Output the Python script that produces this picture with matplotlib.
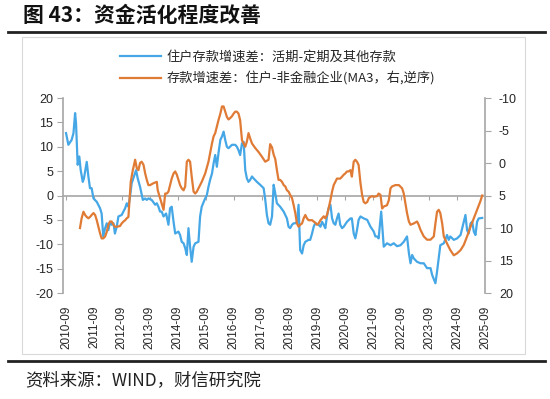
import numpy as np
import matplotlib
matplotlib.use("Agg")
import matplotlib.pyplot as plt
from matplotlib.lines import Line2D

plt.rcParams['font.family'] = ['Noto Sans CJK SC', 'DejaVu Sans']
plt.rcParams['axes.unicode_minus'] = False

# months counted from 2010-09
tick_labels = ["2010-09", "2011-09", "2012-09", "2013-09", "2014-09", "2015-09",
               "2016-09", "2017-09", "2018-09", "2019-09", "2020-09", "2021-09",
               "2022-09", "2023-09", "2024-09", "2025-09"]

# 住户存款增速差：活期-定期及其他存款 (left axis)
blue_m = [0, 1, 2.4, 3.2, 3.9, 4.3, 5.0, 5.7, 6.3, 7.2, 7.7, 8.9, 9.6, 10.3, 11.0, 11.8,
          13.2, 14.6, 15.3, 16.0, 16.8, 17.5, 18.2, 18.9, 19.6, 20.4, 21.0, 21.8, 22.5,
          23.9, 25.4, 26.1, 26.8, 27.5, 28.2, 29.2, 30.1, 30.8, 31.8, 33.0, 34.0, 34.7,
          35.4, 36.8, 38.3, 39.0, 39.7, 40.4, 41.1, 41.9, 43.0, 44.0, 44.7, 45.4, 46.2,
          46.9, 48.3, 49.0, 49.7, 50.5, 51.2, 51.9, 52.6, 53.3, 54.0, 54.8, 55.5, 56.9,
          57.6, 58.3, 59.5, 60.5, 61.2, 61.9, 62.7, 63.4, 64.1, 64.8, 65.5, 66.3, 67.0,
          67.7, 68.4, 69.1, 69.8, 71.3, 72.7, 73.4, 74.1, 74.8, 75.6, 76.3, 77.0, 77.7,
          78.4, 79.1, 79.9, 80.6, 82.0, 83.4, 84.9, 85.6, 86.3, 87.0, 87.7, 88.5, 89.2,
          89.9, 90.6, 92.0, 93.5, 94.9, 95.6, 96.3, 97.1, 97.8, 98.5, 99.2, 99.9, 100.6,
          101.4, 102.1, 102.8, 104.2, 104.9, 105.7, 106.4, 107.1, 108.5, 109.3, 110.0,
          110.7, 111.4, 112.1, 112.8, 113.6, 114.3, 115.0, 115.7, 116.4, 117.1, 117.8,
          118.6, 119.3, 120.7, 122.2, 122.8, 123.6, 124.3, 125.0, 125.7, 126.5, 127.9,
          129.4, 130.8, 132.2, 132.9, 133.6, 134.3, 135.4, 136.5, 137.9, 139.4, 140.8,
          142.2, 143.7, 145.1, 146.5, 147.3, 148.0, 148.7, 149.4, 150.8, 152.3, 153.7,
          155.1, 156.6, 157.3, 158.7, 159.4, 160.8, 162.3, 163.7, 164.4, 165.1, 166.6,
          168.0, 169.5, 170.9, 171.6, 172.3, 173.0, 173.8, 174.5, 175.2, 175.9, 176.6,
          177.3, 178.8]
blue_v = [12.8, 10.4, 11.4, 12.8, 16.9, 14.8, 6.3, 8.0, 5.2, 2.8, 3.5, 6.9, 3.9, 1.5, 1.5, -0.6,
          -1.3, -2.6, -3.7, -8.4, -6.7, -5.7, -7.1, -5.4, -6.0, -5.7, -7.8, -6.4, -4.3,
          -4.0, -2.6, -1.6, -2.3, -0.2, 2.5, 3.9, 5.2, 3.5, 1.8, -0.9, -0.6, -0.9,
          -0.6, -0.9, -1.9, -1.6, -2.3, -3.3, -3.3, -4.3, -3.7, -6.0, -2.6, -2.3, -5.4,
          -7.8, -7.4, -8.1, -9.5, -9.8, -10.8, -12.2, -6.7, -10.5, -13.6, -10.5, -9.8, -9.5,
          -4.3, -2.3, -0.9, 0.1, 1.8, 3.2, 4.5, 6.6, 8.3, 5.9, 8.7, 11.4, 12.1,
          13.1, 11.4, 10.0, 9.7, 10.4, 10.4, 10.0, 9.3, 8.3, 10.7, 11.0, 5.2, 3.5,
          2.8, 3.2, 3.9, 3.5, 2.8, 2.2, 1.5, -0.9, -4.0, -5.7, -6.0, -4.3, 2.2,
          0.4, -1.6, -2.3, -3.3, -4.7, -6.4, -6.7, -6.0, -5.7, -5.7, -5.4, -1.9, -11.2,
          -11.9, -10.2, -9.5, -9.1, -9.1, -7.8, -6.4, -5.7, -6.0, -6.4, -5.4,
          -6.0, -6.7, -4.3, -2.6, -1.9, -4.7, -5.7, -6.0, -4.7, -3.7, -6.0,
          -6.7, -6.4, -5.4, -4.7, -4.7, -7.8, -8.8, -7.1, -5.0, -4.3, -4.7,
          -5.0, -6.4, -7.4, -8.4, -8.4, -8.8, -3.3, -10.5, -9.8, -10.2, -9.8,
          -10.4, -10.2, -9.5, -8.4, -11.8, -13.9, -12.2, -12.9, -13.6, -13.9, -13.9,
          -14.9, -14.9, -16.3, -18.0, -15.6, -10.2, -9.8, -8.1, -9.1, -8.4, -9.1,
          -8.8, -8.1, -5.4, -4.0, -7.1, -7.8, -5.7, -5.4, -7.4, -8.1, -5.4,
          -4.7, -4.6]

# 存款增速差：住户-非金融企业 (MA3, right axis, inverted)
orange_m = [6.0, 6.7, 7.5, 8.2, 8.9, 9.6, 10.3, 11.0, 11.8, 12.5, 13.2, 13.9, 14.6, 15.3,
            16.0, 16.8, 17.5, 18.2, 18.9, 19.6, 20.4, 21.0, 21.8, 23.2, 23.9, 24.7, 25.4,
            26.1, 26.8, 27.2, 27.8, 28.7, 29.7, 30.4, 31.1, 31.8, 32.5, 33.3, 34.0, 34.7,
            35.4, 36.1, 37.6, 39.0, 39.4, 40.4, 41.1, 41.9, 42.6, 43.3, 44.0, 44.7, 45.4,
            46.2, 46.9, 47.6, 48.3, 49.0, 49.7, 50.5, 51.2, 51.9, 52.6, 53.3, 54.0, 54.8,
            55.5, 56.2, 56.9, 58.3, 59.8, 61.2, 61.9, 62.7, 63.4, 64.1, 64.8, 65.5, 66.3,
            67.0, 67.7, 68.4, 69.1, 69.8, 70.5, 71.3, 72.0, 72.7, 73.4, 74.1, 74.8, 75.6,
            76.3, 77.0, 77.7, 78.4, 79.1, 79.9, 81.3, 82.7, 84.1, 85.6, 87.0, 87.7, 88.5,
            89.2, 89.9, 90.6, 91.3, 92.0, 92.8, 93.5, 94.2, 94.9, 95.6, 96.3, 97.1, 97.8,
            98.5, 99.2, 99.9, 100.6, 101.4, 102.1, 102.8, 103.5, 104.2, 105.7, 106.4,
            107.1, 107.8, 108.5, 109.3, 110.0, 110.7, 111.4, 112.1, 112.8, 113.6, 114.3,
            115.0, 115.7, 116.4, 117.8, 118.6, 119.3, 120.0, 120.7, 121.4, 122.2, 122.8,
            123.6, 124.3, 125.0, 125.7, 126.5, 127.2, 127.9, 128.6, 129.4, 130.1, 130.8,
            131.5, 132.2, 133.6, 134.3, 135.1, 135.8, 136.5, 137.9, 138.7, 139.4, 140.1,
            141.5, 143.0, 144.4, 145.1, 145.8, 146.5, 147.3, 148.0, 149.4, 150.8, 151.5,
            152.3, 153.7, 155.1, 156.6, 158.0, 158.7, 159.4, 160.1, 160.8, 161.6, 162.3,
            163.7, 165.1, 166.6, 168.0, 169.5, 170.9, 172.3, 173.8, 175.2, 176.6, 178.0,
            178.8]
orange_v = [10.0, 8.5, 7.5, 8.0, 8.3, 8.5, 8.3, 8.0, 7.7, 8.0, 8.8, 9.8, 10.8, 11.6,
            11.6, 11.3, 10.6, 9.5, 9.0, 9.0, 9.5, 9.8, 9.8, 9.7, 9.3, 9.0, 8.8,
            8.5, 8.3, 6.2, 2.9, 1.1, -0.5, 0.8, 1.1, 0.0, -0.2, 0.3, 1.6, 2.6,
            3.4, 3.4, 3.1, 2.9, 4.2, 5.4, 6.2, 7.2, 4.7, 4.7, 4.4, 3.4, 2.4,
            1.6, 1.3, 1.8, 2.6, 3.4, 3.9, 4.2, 3.6, -0.2, -0.5, -0.2, 2.1, 4.4,
            4.7, 4.4, 3.9, 2.9, 1.6, -0.2, -1.5, -3.0, -4.1, -4.6, -5.6, -6.6, -7.6,
            -8.7, -8.7, -7.9, -7.1, -6.7, -6.9, -7.2, -7.6, -7.9, -7.9, -7.6, -6.6, -3.5,
            -3.0, -2.5, -3.3, -4.6, -3.8, -3.0, -2.3, -1.7, -1.0, -0.2, -0.5, -2.9, -2.4,
            -1.3, -0.6, 1.1, 2.6, 2.6, 2.9, 3.4, 3.6, 4.2, 4.4, 4.9, 5.4, 6.5,
            7.7, 9.3, 9.8, 9.5, 9.3, 8.5, 8.0, 8.5, 8.8, 8.8, 9.0,
            9.2, 9.5, 9.3, 8.8, 8.5, 8.2, 8.5, 8.0, 7.0, 5.7, 4.4,
            3.4, 2.9, 2.4, 2.4, 2.1, 1.8, 1.6, 1.3, 1.3, 1.1, 2.1,
            -0.2, -0.5, -0.2, 0.3, 3.1, 4.9, 6.0, 6.2, 6.0, 5.4, 5.2,
            5.1, 5.2, 5.1, 4.7, 4.9, 7.0, 6.7, 6.5, 5.7, 3.9, 3.6,
            3.4, 3.4, 3.9, 4.7, 6.2, 7.7, 9.0, 9.5, 9.3, 9.0, 9.5,
            10.3, 11.3, 11.8, 11.8, 11.3, 9.3, 7.5, 7.2, 7.7, 9.3, 11.3,
            12.4, 13.4, 14.2, 13.9, 13.4, 12.6, 11.3, 9.8, 8.5, 7.2, 5.9,
            5.0]

blue_c = "#45A7E6"
orange_c = "#E07B36"
grey = "#A6A6A6"
txt_c = "#262626"

fig = plt.figure(figsize=(5.5, 3.99), dpi=100)

# title, rules and outer frame
fig.text(23 / 550, 1 - 15 / 399, "图 43：资金活化程度改善", fontsize=15, weight="bold",
         va="center", ha="left", color="#111111")
fig.add_artist(Line2D([8 / 550, 545 / 550], [1 - 32 / 399] * 2, color="#222222", lw=2))
fig.add_artist(Line2D([8 / 550, 545 / 550], [1 - 361 / 399] * 2, color="#222222", lw=2))
fig.add_artist(plt.Rectangle((22 / 550, 1 - 354 / 399), 503 / 550, 317 / 399,
                             fill=False, ec="#D9D9D9", lw=0.8))
fig.text(25 / 550, 1 - 380 / 399, "资料来源：WIND，财信研究院", fontsize=12.5,
         style="italic", va="center", ha="left", color="#222222")

ax = fig.add_axes([63 / 550, 1 - 293 / 399, 422 / 550, 195 / 399])
ax.patch.set_alpha(0)
l1, = ax.plot(blue_m, blue_v, color=blue_c, lw=1.6, zorder=3)
ax.set_ylim(-20, 20)
ax.set_yticks(np.arange(-20, 21, 5))
ax.set_xlim(-1.3, 180)

ticks = np.arange(0, 181, 12)
ax.set_xticks(ticks)
ax.spines["bottom"].set_position(("data", 0))
for s in ["top", "right"]:
    ax.spines[s].set_visible(False)
for s in ["bottom", "left"]:
    ax.spines[s].set_color(grey)
    ax.spines[s].set_linewidth(1.2)
ax.tick_params(axis="x", direction="out", length=3, color=grey, labelbottom=False)
ax.tick_params(axis="y", direction="out", length=4, color=grey, labelsize=9,
               labelcolor=txt_c, pad=3)

sec = ax.secondary_xaxis("bottom")
sec.set_xticks(ticks, labels=tick_labels)
sec.spines["bottom"].set_visible(False)
sec.tick_params(length=0, pad=9, labelsize=8.5, labelcolor=txt_c, labelrotation=90)
for lab in sec.get_xticklabels():
    lab.set_fontfamily("Liberation Sans")
for lab in ax.get_yticklabels():
    lab.set_fontfamily("Liberation Sans")

ax2 = ax.twinx()
l2, = ax2.plot(orange_m, orange_v, color=orange_c, lw=1.6, zorder=3)
ax2.set_ylim(20, -10)
ax2.set_yticks(np.arange(-10, 21, 5))
for s in ["top", "bottom", "left"]:
    ax2.spines[s].set_visible(False)
ax2.spines["right"].set_color(grey)
ax2.spines["right"].set_linewidth(1.2)
ax2.tick_params(axis="y", direction="out", length=4, color=grey, labelsize=9,
                labelcolor=txt_c, pad=6)
for lab in ax2.get_yticklabels():
    lab.set_fontfamily("Liberation Sans")

fig.legend([l1, l2], ["住户存款增速差：活期-定期及其他存款",
                      "存款增速差：住户-非金融企业(MA3，右,逆序)"],
           loc="upper left", bbox_to_anchor=(120 / 550, 1 - 51 / 399), frameon=False,
           fontsize=9.5, handlelength=3.1, handletextpad=0.4, borderpad=0,
           borderaxespad=0, labelspacing=0.55, labelcolor=txt_c)

fig.savefig("out.png", dpi=100)
